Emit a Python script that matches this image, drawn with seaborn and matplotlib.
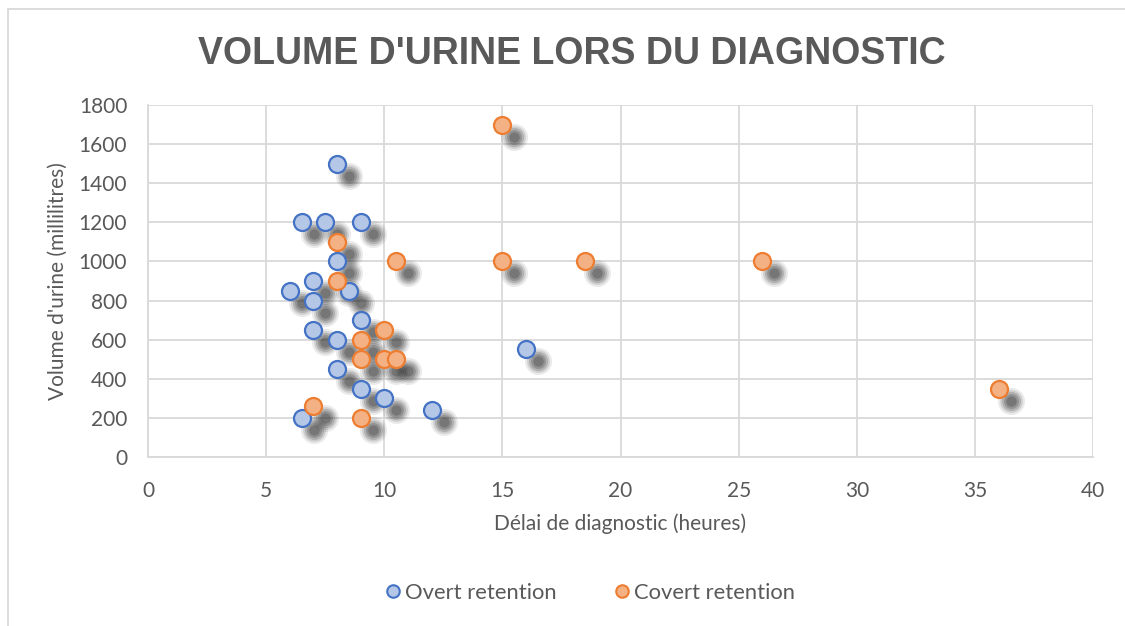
import matplotlib
matplotlib.use("Agg")
import matplotlib.pyplot as plt
import matplotlib.transforms as mtransforms
from matplotlib.lines import Line2D
from matplotlib.patches import Rectangle
import seaborn as sns
import pandas as pd

# ---- data ----
overt_x = [8, 6.5, 7.5, 9, 8, 7, 6, 8.5, 7, 9, 7, 8, 8, 9, 10, 12, 6.5, 16]
overt_y = [1500, 1200, 1200, 1200, 1000, 900, 850, 850, 800, 700, 650, 600, 450, 350, 300, 240, 200, 550]
covert_x = [8, 10.5, 8, 10, 9, 9, 10, 10.5, 7, 9, 15, 15, 18.5, 26, 36]
covert_y = [1100, 1000, 900, 650, 600, 500, 500, 500, 260, 200, 1700, 1000, 1000, 1000, 350]
series_names = ["Overt retention", "Covert retention"]
title = "VOLUME D'URINE LORS DU DIAGNOSTIC"
xlabel = "Délai de diagnostic (heures)"
ylabel = "Volume d'urine (millilitres)"
xticks = [0, 5, 10, 15, 20, 25, 30, 35, 40]
yticks = [0, 200, 400, 600, 800, 1000, 1200, 1400, 1600, 1800]

df = pd.concat([
    pd.DataFrame({"x": overt_x, "y": overt_y, "serie": series_names[0]}),
    pd.DataFrame({"x": covert_x, "y": covert_y, "serie": series_names[1]}),
], ignore_index=True)

sns.set_style("white")
plt.rcParams["font.family"] = ["Lato", "DejaVu Sans"]

TXT = "#595959"
GRID = "#D9D9D9"
FS = 15
fills = {"Overt retention": "#B4C7E7", "Covert retention": "#F4B183"}
edges = {"Overt retention": "#4472C4", "Covert retention": "#ED7D31"}

fig = plt.figure(figsize=(11.25, 6.26), dpi=100)
ax = fig.add_axes([0.1316, 0.2700, 0.8400, 0.5623])

# blurred shadows, offset down-right
shadow_tr = ax.transData + mtransforms.ScaledTranslation(12 / 100, -12 / 100, fig.dpi_scale_trans)
for s, a in [(380, 0.09), (270, 0.13), (190, 0.17), (115, 0.21), (55, 0.24)]:
    sns.scatterplot(data=df, x="x", y="y", ax=ax, color="#202020", s=s, alpha=a,
                    linewidth=0, transform=shadow_tr, legend=False, zorder=2)

handles = []
for name in series_names:
    sub = df[df["serie"] == name]
    sns.scatterplot(data=sub, x="x", y="y", ax=ax, color=fills[name], edgecolor=edges[name],
                    s=150, linewidth=1.6, legend=False, zorder=3)
    handles.append(Line2D([], [], marker="o", linestyle="none", markersize=9,
                          markerfacecolor=fills[name], markeredgecolor=edges[name],
                          markeredgewidth=1.5, label=name))

ax.set_xlim(0, 40)
ax.set_ylim(0, 1800)
ax.set_xticks(xticks)
ax.set_yticks(yticks)
ax.grid(True, color=GRID, linewidth=1.3)
ax.set_axisbelow(True)
for side in ["top", "right"]:
    ax.spines[side].set_visible(False)
for side in ["left", "bottom"]:
    ax.spines[side].set_color(GRID)
    ax.spines[side].set_linewidth(1.3)
ax.tick_params(axis="both", length=0, labelsize=FS, labelcolor=TXT)
ax.tick_params(axis="x", pad=17)
ax.tick_params(axis="y", pad=15)
ax.set_xlabel(xlabel, fontsize=FS, color=TXT, labelpad=9)
ax.set_ylabel(ylabel, fontsize=FS, color=TXT, labelpad=8)

fig.text(0.508, 1 - 54 / 626, title, ha="center", va="center", fontsize=27,
         fontweight="bold", color=TXT, family=["Liberation Sans", "DejaVu Sans"])

fig.legend(handles=handles, loc="center", bbox_to_anchor=(0.523, 1 - 593 / 626), ncol=2,
           frameon=False, fontsize=15.8, labelcolor=TXT, handletextpad=0.05,
           columnspacing=2.5, handlelength=1.0)

# chart border
fig.patches.append(Rectangle((8 / 1125, -0.05), 1.2, 1 - 9 / 626 + 0.05, transform=fig.transFigure,
                             fill=False, edgecolor=GRID, linewidth=1.3))

fig.savefig("out.png", dpi=100)
